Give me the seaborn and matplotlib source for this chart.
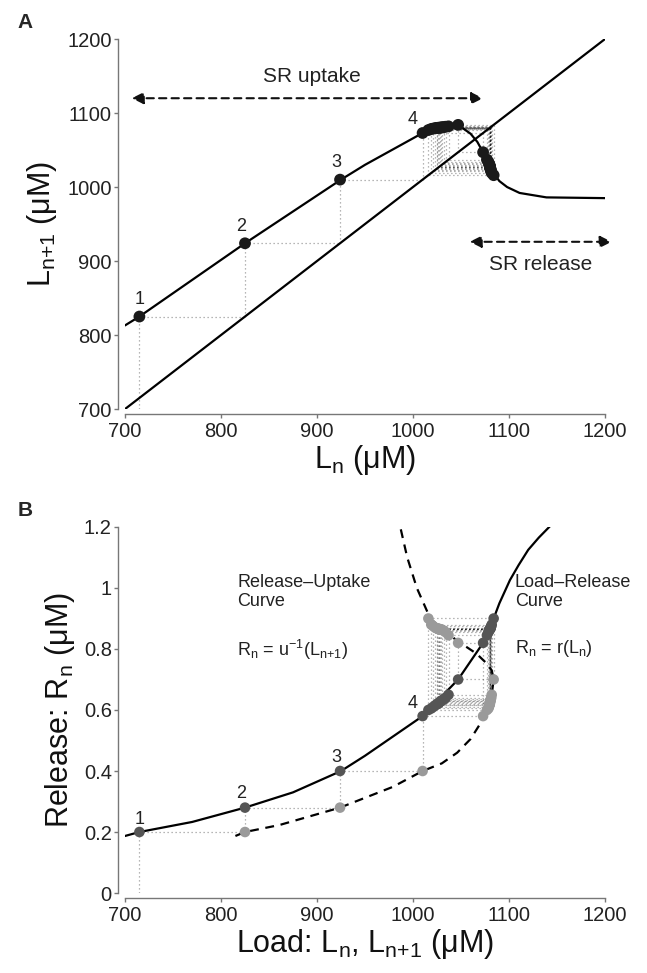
import numpy as np
import pandas as pd
import seaborn as sns
import matplotlib.pyplot as plt

# ---- data ----
# panel A: map L(n) -> L(n+1)
map_L = [700, 715, 825, 925, 950, 1010, 1047, 1060, 1067, 1073, 1078, 1083,
         1090, 1098, 1111, 1139, 1200]
map_Lnext = [813, 825, 924, 1010, 1030, 1073, 1084, 1072, 1061, 1047, 1035,
             1020, 1008, 1000, 992, 986, 985]
ident = [700, 1200]

# iterated loads (cobweb), alternans at the end
L_seq = [715, 825, 924, 1010, 1073, 1047, 1084, 1016, 1077, 1037, 1082, 1019,
         1078.5, 1034, 1081.5, 1021, 1079, 1032, 1081, 1023, 1079.5, 1030.5,
         1080.7, 1024.5, 1079.8, 1029.5, 1080.5, 1025.5, 1080, 1028.5, 1080.3,
         1026.5, 1080.1, 1027.5, 1080.2, 1027]
# release for each load of L_seq
R_seq = [0.20, 0.28, 0.40, 0.58, 0.82, 0.70, 0.90, 0.60, 0.845, 0.65, 0.88,
         0.605, 0.855, 0.64, 0.875, 0.61, 0.86, 0.635, 0.87, 0.615, 0.862,
         0.632, 0.868, 0.618, 0.864, 0.63, 0.867, 0.62, 0.865, 0.628, 0.866,
         0.622, 0.865, 0.625, 0.866, 0.624]

# panel B: load-release curve R = r(L)
lr_L = [700, 715, 770, 825, 875, 925, 950, 1010, 1047, 1073, 1080, 1084,
        1090, 1101, 1110, 1120, 1131, 1145]
lr_R = [0.187, 0.20, 0.233, 0.28, 0.33, 0.40, 0.45, 0.58, 0.70, 0.82, 0.865,
        0.90, 0.95, 1.026, 1.075, 1.125, 1.165, 1.21]
# release-uptake curve R = u^-1(L(n+1))
ru_L = [815, 825, 861, 924, 979, 1010, 1030, 1046, 1060, 1070, 1077, 1082,
        1084, 1082, 1076, 1066, 1047, 1032, 1018, 1004, 994, 986]
ru_R = [0.187, 0.20, 0.223, 0.28, 0.348, 0.40, 0.425, 0.46, 0.505, 0.555,
        0.60, 0.65, 0.70, 0.73, 0.755, 0.785, 0.825, 0.86, 0.90, 1.0, 1.10,
        1.21]

ticksA = [700, 800, 900, 1000, 1100, 1200]
ticksB_y = [0, 0.2, 0.4, 0.6, 0.8, 1.0, 1.2]
ticklabB_y = ["0", "0.2", "0.4", "0.6", "0.8", "1", "1.2"]

uptake_arrow = ([707, 1073], [1120, 1120])
release_arrow = ([1059, 1207], [926, 926])

# ---- style ----
sns.set_style("ticks")
plt.rcParams['font.family'] = ['Liberation Sans', 'DejaVu Sans']
plt.rcParams['mathtext.fontset'] = 'custom'
plt.rcParams['mathtext.rm'] = 'Liberation Sans'
plt.rcParams['mathtext.it'] = 'Liberation Sans:italic'
plt.rcParams['mathtext.bf'] = 'Liberation Sans:bold'

SPINE = "#777777"
DOT = (0, (1, 2.2))
WEB = (0, 0, 0, 0.38)   # translucent so dense regions darken


def style_axis(ax):
    sns.despine(ax=ax)
    ax.spines['left'].set_position(('outward', 5))
    ax.spines['bottom'].set_position(('outward', 3.5))
    for s in ['left', 'bottom']:
        ax.spines[s].set_color(SPINE)
        ax.spines[s].set_linewidth(1.0)
    ax.tick_params(direction='out', length=3, width=1.0, color=SPINE,
                   labelsize=14.5, labelcolor="#222222")
    ax.tick_params(axis='y', pad=1.5)
    ax.tick_params(axis='x', pad=2.5)


def cobweb_A():
    xs, ys = [L_seq[0]], [700]
    for i in range(len(L_seq) - 1):
        xs += [L_seq[i], L_seq[i + 1]]
        ys += [L_seq[i + 1], L_seq[i + 1]]
    return xs, ys


def cobweb_B():
    xs, ys = [L_seq[0]], [0]
    for i in range(len(L_seq) - 1):
        xs += [L_seq[i], L_seq[i + 1]]
        ys += [R_seq[i], R_seq[i]]
    xs.append(L_seq[-1])
    ys.append(R_seq[-1])
    return xs, ys


def draw_web(ax, xs, ys):
    # separate segments so overlaps add up
    for i in range(len(xs) - 1):
        ax.plot(xs[i:i + 2], ys[i:i + 2], color=WEB, lw=0.9, ls=DOT, zorder=1)


fig = plt.figure(figsize=(6.47, 9.73), dpi=100)
axA = fig.add_axes([0.1932, 0.5796, 0.7419, 0.3803])
axB = fig.add_axes([0.1932, 0.0822, 0.7419, 0.3762])

# ---- PANEL A ----
cx, cy = cobweb_A()
draw_web(axA, cx, cy)
sns.lineplot(x=ident, y=ident, color="k", lw=1.6, ax=axA, zorder=2)
sns.lineplot(x=map_L, y=map_Lnext, sort=False, estimator=None, color="k",
             lw=1.6, ax=axA, zorder=2)
sns.scatterplot(x=L_seq[:-1], y=L_seq[1:], color="#1a1a1a", s=72,
                edgecolor="none", ax=axA, zorder=5, legend=False)

offs = [(0, 12), (-3, 12), (-3, 12), (-7, 10)]
for k in range(4):
    axA.annotate(str(k + 1), (L_seq[k], L_seq[k + 1]), xytext=offs[k],
                 textcoords='offset points', ha='center', va='center',
                 fontsize=13, color="#222222")

for (ax_x, ax_y) in [uptake_arrow, release_arrow]:
    axA.annotate('', xy=(ax_x[1], ax_y[1]), xytext=(ax_x[0], ax_y[0]),
                 arrowprops=dict(arrowstyle='<|-|>,head_length=0.7,head_width=0.35',
                                 linestyle=(0, (3.5, 2.5)), color='#111111',
                                 lw=1.5, shrinkA=0, shrinkB=0),
                 annotation_clip=False)
axA.text(895, 1149, "SR uptake", ha='center', va='center', fontsize=15,
         color="#222222")
axA.text(1133, 895, "SR release", ha='center', va='center', fontsize=15,
         color="#222222")

axA.set_xlim(700, 1200)
axA.set_ylim(700, 1200)
axA.set_xticks(ticksA)
axA.set_yticks(ticksA)
style_axis(axA)
axA.set_xlabel(r"L$_{\mathregular{n}}$ ($\mathregular{\mu}$M)", fontsize=22,
               labelpad=2, color="#111111")
axA.set_ylabel(r"L$_{\mathregular{n{+}1}}$ ($\mathregular{\mu}$M)", fontsize=22,
               labelpad=6, color="#111111")

# ---- PANEL B ----
bx, by = cobweb_B()
draw_web(axB, bx, by)
sns.lineplot(x=lr_L, y=lr_R, sort=False, estimator=None, color="k", lw=1.6,
             ax=axB, zorder=2)
axB.plot(ru_L, ru_R, color="k", lw=1.6, dashes=(4, 3), zorder=2)
sns.scatterplot(x=L_seq[1:], y=R_seq[:-1], color="#9a9a9a", s=58,
                edgecolor="none", ax=axB, zorder=5, legend=False)
sns.scatterplot(x=L_seq, y=R_seq, color="#555555", s=58,
                edgecolor="none", ax=axB, zorder=6, legend=False)

offsB = [(0, 9), (-3, 10), (-3, 10), (-7, 9)]
for k in range(4):
    axB.annotate(str(k + 1), (L_seq[k], R_seq[k]), xytext=offsB[k],
                 textcoords='offset points', ha='center', va='center',
                 fontsize=13, color="#222222")

axB.text(817, 1.045, "Release\u2013Uptake\nCurve", ha='left', va='top',
         fontsize=13, color="#222222", linespacing=1.15)
axB.text(817, 0.835, r"R$_{\mathregular{n}}$ = u$^{\mathregular{-1}}$(L$_{\mathregular{n{+}1}}$)",
         ha='left', va='top', fontsize=13, color="#222222")
axB.text(1106, 1.045, "Load\u2013Release\nCurve", ha='left', va='top',
         fontsize=13, color="#222222", linespacing=1.15)
axB.text(1106, 0.835, r"R$_{\mathregular{n}}$ = r(L$_{\mathregular{n}}$)",
         ha='left', va='top', fontsize=13, color="#222222")

axB.set_xlim(700, 1200)
axB.set_ylim(0, 1.2)
axB.set_xticks(ticksA)
axB.set_yticks(ticksB_y)
axB.set_yticklabels(ticklabB_y)
style_axis(axB)
axB.set_xlabel(r"Load: L$_{\mathregular{n}}$, L$_{\mathregular{n{+}1}}$ ($\mathregular{\mu}$M)",
               fontsize=22, labelpad=2, color="#111111")
axB.set_ylabel(r"Release: R$_{\mathregular{n}}$ ($\mathregular{\mu}$M)",
               fontsize=22, labelpad=5, color="#111111")

fig.text(0.027, 0.987, "A", fontsize=15, fontweight='bold', va='top')
fig.text(0.027, 0.485, "B", fontsize=15, fontweight='bold', va='top')

fig.savefig("out.png", dpi=100)
